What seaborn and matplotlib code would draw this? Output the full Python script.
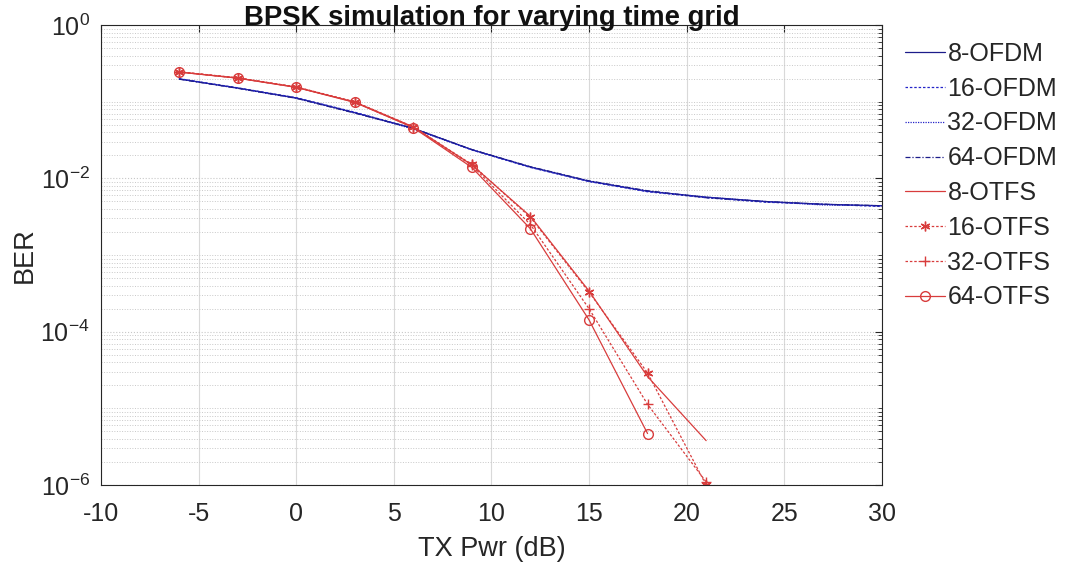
import numpy as np
import pandas as pd
import matplotlib
matplotlib.use("Agg")
import matplotlib.pyplot as plt
from matplotlib.ticker import FixedLocator, LogLocator, NullFormatter, FuncFormatter
import seaborn as sns

# TX power grid (dB)
ofdm_pwr = [-6, -3, 0, 3, 6, 9, 12, 15, 18, 21, 24, 27, 30]
otfs_pwr = [-6, -3, 0, 3, 6, 9, 12, 15, 18, 21]

# OFDM BER curves
ber_ofdm_8 = [0.198, 0.151, 0.112, 0.072, 0.045, 0.0237, 0.0141, 0.0092, 0.0068, 0.0057, 0.0050, 0.0046, 0.0044]
ber_ofdm_16 = [0.200, 0.152, 0.113, 0.073, 0.045, 0.0235, 0.0139, 0.0091, 0.0067, 0.0056, 0.0049, 0.0046, 0.0043]
ber_ofdm_32 = [0.199, 0.150, 0.111, 0.072, 0.044, 0.0236, 0.0140, 0.0092, 0.0068, 0.0057, 0.0050, 0.0045, 0.0044]
ber_ofdm_64 = [0.197, 0.150, 0.111, 0.071, 0.045, 0.0238, 0.0142, 0.0093, 0.0069, 0.0056, 0.0050, 0.0046, 0.0044]

# OTFS BER curves
ber_otfs_8 = [0.244, 0.204, 0.155, 0.099, 0.047, 0.0150, 3.2e-3, 3.4e-4, 2.6e-5, 3.8e-6]
ber_otfs_16 = [0.246, 0.205, 0.156, 0.100, 0.047, 0.0152, 3.1e-3, 3.3e-4, 2.9e-5, 1.0e-6]
ber_otfs_32 = [0.245, 0.204, 0.155, 0.099, 0.046, 0.0148, 2.5e-3, 2.0e-4, 1.13e-5, 1.1e-6]
ber_otfs_64 = [0.244, 0.203, 0.154, 0.098, 0.046, 0.0139, 2.2e-3, 1.43e-4, 4.7e-6]

labels = ["8-OFDM", "16-OFDM", "32-OFDM", "64-OFDM", "8-OTFS", "16-OTFS", "32-OTFS", "64-OTFS"]

sns.set_style("white")
plt.rcParams["font.family"] = ["Liberation Sans", "DejaVu Sans"]
plt.rcParams["axes.unicode_minus"] = False

fig, ax = plt.subplots(figsize=(10.78, 5.70), dpi=100)
fig.subplots_adjust(left=0.0937, right=0.818, top=0.956, bottom=0.149)

blue = "#2424c8"
navy = "#1c1c8a"
red = "#d83c3c"

series = [
    (ofdm_pwr, ber_ofdm_8, navy, "-", None),
    (ofdm_pwr, ber_ofdm_16, blue, (0, (2, 1.5)), None),
    (ofdm_pwr, ber_ofdm_32, blue, (0, (1, 1)), None),
    (ofdm_pwr, ber_ofdm_64, navy, (0, (4, 1.5, 1, 1.5)), None),
    (otfs_pwr, ber_otfs_8, red, "-", None),
    (otfs_pwr, ber_otfs_16, red, (0, (2, 1.5)), (6, 2, 0)),
    (otfs_pwr, ber_otfs_32, red, (0, (2, 1.5)), "+"),
    (otfs_pwr[:len(ber_otfs_64)], ber_otfs_64, red, "-", "o"),
]

for (x, y, c, ls, mk), lab in zip(series, labels):
    df = pd.DataFrame({"pwr": x, "ber": y})
    sns.lineplot(data=df, x="pwr", y="ber", ax=ax, color=c, linestyle=ls,
                 linewidth=0.9, marker=mk, markersize=7,
                 markerfacecolor="none", markeredgecolor=c, markeredgewidth=1.0,
                 label=lab)

ax.set_yscale("log")
ax.set_xlim(-10, 30)
ax.set_ylim(1e-6, 1)
ax.set_xticks(np.arange(-10, 31, 5))
ax.yaxis.set_major_locator(FixedLocator([1e-6, 1e-4, 1e-2, 1]))
ax.yaxis.set_minor_locator(LogLocator(base=10, subs=np.arange(1, 10), numticks=50))
ax.yaxis.set_minor_formatter(NullFormatter())
ax.yaxis.set_major_formatter(FuncFormatter(lambda v, p: r"$\mathregular{10^{%d}}$" % round(np.log10(v))))

ax.grid(True, which="major", axis="x", color="#d9d9d9", linewidth=0.8, linestyle="-")
ax.grid(True, which="major", axis="y", color="#c8c8c8", linewidth=0.8, linestyle=":")
ax.grid(True, which="minor", axis="y", color="#c8c8c8", linewidth=0.7, linestyle=":")

ax.tick_params(axis="both", which="both", direction="in", top=True, right=True,
               labelsize=18, colors="#262626", labelcolor="#262626")
ax.tick_params(axis="x", which="major", length=5, pad=12)
ax.tick_params(axis="y", which="major", length=5, pad=8)
ax.tick_params(axis="y", which="minor", length=3)
for s in ax.spines.values():
    s.set_color("#262626")
    s.set_linewidth(0.8)

ax.set_xlabel("TX Pwr (dB)", fontsize=19.5, color="#262626", labelpad=7.5)
ax.set_ylabel("BER", fontsize=19.5, color="#262626", labelpad=2)
ax.set_title("BPSK simulation for varying time grid", fontsize=19.8, fontweight="bold",
             color="#111111", pad=0)

ax.legend(loc="upper left", bbox_to_anchor=(905 / 1078, 1 - 42 / 570),
          bbox_transform=fig.transFigure, frameon=False, fontsize=18,
          handlelength=1.6, handletextpad=0.1, labelspacing=0.43,
          borderaxespad=0, borderpad=0, numpoints=1)

fig.savefig("out.png", dpi=100)
